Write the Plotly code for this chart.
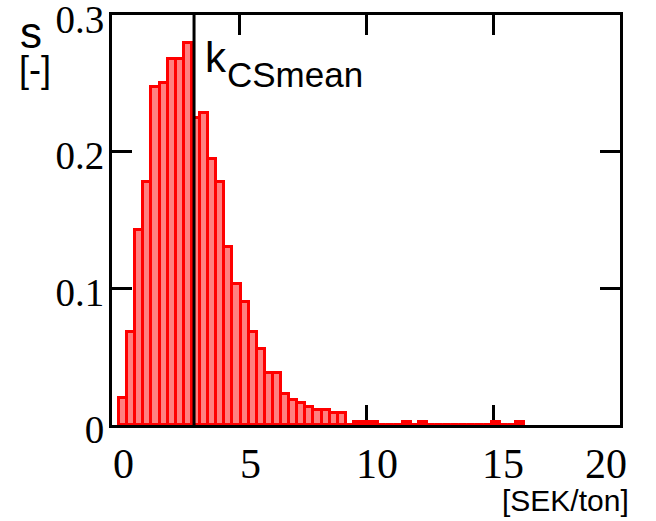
import plotly.graph_objects as go

# ---- data ----
bin_centers = [0.435, 0.754, 1.073, 1.392, 1.711, 2.030, 2.349, 2.668, 2.987, 3.306,
               3.625, 3.944, 4.263, 4.581, 4.900, 5.219, 5.538, 5.857, 6.176, 6.495,
               6.814, 7.133, 7.452, 7.771, 8.090, 8.408, 8.727, 9.046, 9.365, 9.684,
               10.003, 10.322, 10.641, 10.960, 11.279, 11.598, 11.917, 12.235, 12.554, 12.873,
               13.192, 13.511, 13.830, 14.149, 14.468, 14.787, 15.106, 15.425, 15.744, 16.062]
bin_width = 0.319
s_values = [0.020, 0.068, 0.143, 0.1775, 0.2475, 0.2505, 0.2675, 0.2675, 0.2797, 0.2245,
            0.228, 0.195, 0.1775, 0.1305, 0.103, 0.090, 0.068, 0.0555, 0.038, 0.038,
            0.0227, 0.018, 0.016, 0.0134, 0.011, 0.011, 0.0085, 0.0085, 0.0, 0.0025,
            0.0025, 0.0025, 0.0, 0.0, 0.0, 0.0025, 0.0, 0.0025, 0.0, 0.0,
            0.0, 0.0, 0.0, 0.0, 0.0, 0.0, 0.0025, 0.0, 0.0, 0.0025]
k_cs_mean = 3.23

x_ticks = [0, 5, 10, 15, 20]
x_ticktext = ["0", "5", "10", "15", "20"]
y_ticks = [0, 0.1, 0.2, 0.3]
y_ticktext = ["0", "0.1", "0.2", "0.3"]

# label offsets (style only, pixels)
x_label_shift = [11, 11, 11, 10, -14]

W, H = 656, 521
L, R, T, B = 112, 36, 15, 96
PW, PH = W - L - R, H - T - B


def px(xp):
    return (xp - L) / PW


def py(yp):
    return (H - B - yp) / PH


fig = go.Figure()

# baseline of the histogram (zero-height bins are drawn as a line)
fig.add_trace(go.Scatter(
    x=[bin_centers[0] - bin_width / 2, bin_centers[-1] + bin_width / 2],
    y=[0, 0], mode="lines", line=dict(color="#ff0000", width=3.5),
    hoverinfo="skip", showlegend=False, cliponaxis=False))

fig.add_trace(go.Bar(
    x=bin_centers, y=s_values, width=bin_width,
    marker=dict(color="#ff8080", line=dict(color="#ff0000", width=3)),
    showlegend=False, cliponaxis=False))

fig.add_trace(go.Scatter(
    x=[k_cs_mean, k_cs_mean], y=[y_ticks[0], y_ticks[-1]], mode="lines",
    line=dict(color="black", width=3), showlegend=False, cliponaxis=False))

axis_common = dict(
    showline=True, linewidth=3, linecolor="black", mirror="allticks",
    ticks="inside", ticklen=20, tickwidth=3, tickcolor="black",
    showgrid=False, zeroline=False, automargin=False,
    ticklabeloverflow="allow",
    layer="below traces",
)

fig.update_xaxes(range=[0, 20], tickmode="array", tickvals=x_ticks, ticktext=x_ticktext,
                 showticklabels=False, **axis_common)
fig.update_yaxes(range=[0, 0.3], tickmode="array", tickvals=y_ticks, ticktext=y_ticktext,
                 ticklabelstandoff=-3, ticklabelshift=4,
                 tickfont=dict(family="Liberation Serif", size=39, color="black"),
                 **axis_common)

# x tick labels (Mathcad-style offsets)
for xv, txt, sh in zip(x_ticks, x_ticktext, x_label_shift):
    fig.add_annotation(text=txt, x=xv, y=0, xref="x", yref="paper",
                       xanchor="center", yanchor="middle", yshift=-39, xshift=sh,
                       showarrow=False, borderpad=0,
                       font=dict(family="Liberation Serif", size=42, color="black"))

sans = "Liberation Sans"
annos = [
    dict(text="s", x=px(31), y=py(32), size=44, xanchor="center"),
    dict(text="[-]", x=px(35), y=py(69), size=36, xanchor="center"),
    dict(text="k", x=px(204), y=py(58), size=42, xanchor="left"),
    dict(text="CSmean", x=px(226), y=py(74), size=35, xanchor="left"),
    dict(text="[SEK/ton]", x=px(630), y=py(500), size=30, xanchor="right"),
]
for a in annos:
    fig.add_annotation(text=a["text"], x=a["x"], y=a["y"], xref="paper", yref="paper",
                       xanchor=a["xanchor"], yanchor="middle", showarrow=False,
                       borderpad=0,
                       font=dict(family=sans, size=a["size"], color="black"))

fig.update_layout(
    width=W, height=H, margin=dict(l=L, r=R, t=T, b=B, pad=0),
    paper_bgcolor="white", plot_bgcolor="white", bargap=0,
)

fig.write_html("out.html")
